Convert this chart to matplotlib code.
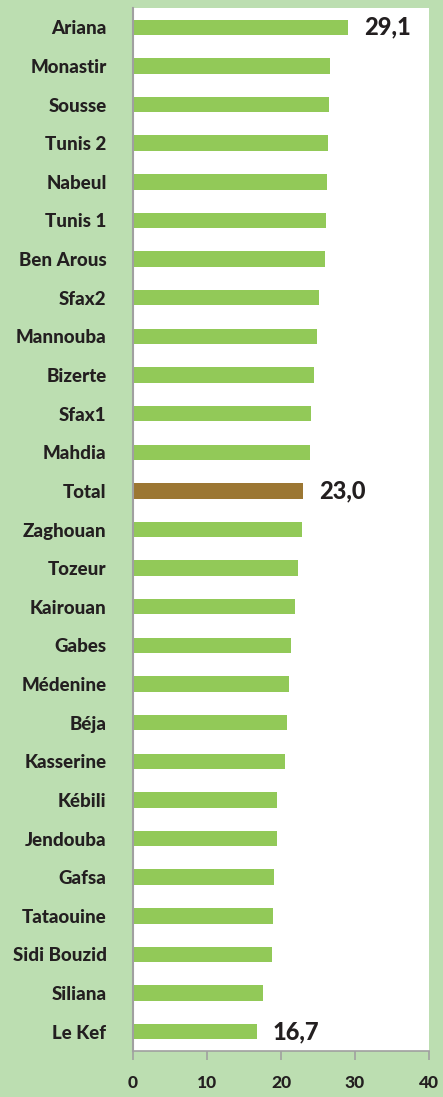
import matplotlib
matplotlib.use("Agg")
import matplotlib.pyplot as plt

categories = ["Ariana", "Monastir", "Sousse", "Tunis 2", "Nabeul", "Tunis 1", "Ben Arous",
              "Sfax2", "Mannouba", "Bizerte", "Sfax1", "Mahdia", "Total", "Zaghouan",
              "Tozeur", "Kairouan", "Gabes", "Médenine", "Béja", "Kasserine", "Kébili",
              "Jendouba", "Gafsa", "Tataouine", "Sidi Bouzid", "Siliana", "Le Kef"]
values = [29.1, 26.6, 26.5, 26.3, 26.2, 26.1, 25.9,
          25.1, 24.9, 24.5, 24.0, 23.9, 23.0, 22.9,
          22.3, 21.9, 21.4, 21.1, 20.8, 20.5, 19.4,
          19.4, 19.0, 18.9, 18.8, 17.6, 16.7]
labelled = ["Ariana", "Total", "Le Kef"]
xticks = [0, 10, 20, 30, 40]

bg = "#BCDEB1"
green = "#92C958"
brown = "#9C7733"
txt = "#231F20"

plt.rcParams['font.family'] = ['Lato', 'DejaVu Sans']

fig = plt.figure(figsize=(4.43, 10.97), dpi=100, facecolor=bg)
ax = fig.add_axes([133/443, 1 - 1051/1097, (429 - 133)/443, (1051 - 8)/1097])
ax.set_facecolor("white")

ypos = list(range(len(categories)))
colors = [brown if c == "Total" else green for c in categories]
ax.barh(ypos, values, height=0.4, color=colors, edgecolor="none")
ax.set_ylim(len(categories) - 0.5, -0.5)
ax.set_xlim(0, 40)
ax.set_xticks(xticks)
ax.set_xticklabels([str(t) for t in xticks], fontsize=12.5, fontweight=900, color=txt)
ax.set_yticks(ypos)
ax.set_yticklabels(categories, fontsize=13.5, fontweight=900, color=txt)
ax.tick_params(axis="y", length=0, pad=19)
ax.tick_params(axis="x", length=6.5, width=1.2, color="#A0A0A0", direction="out", pad=11)

for s in ["top", "right"]:
    ax.spines[s].set_visible(False)
ax.spines["left"].set_color("#A0A0A0")
ax.spines["left"].set_linewidth(1.5)
ax.spines["bottom"].set_color("#A0A0A0")
ax.spines["bottom"].set_linewidth(1.2)

for c, v, y in zip(categories, values, ypos):
    if c in labelled:
        ax.annotate(f"{v:.1f}".replace(".", ","), xy=(v, y), xytext=(16, 0),
                    textcoords="offset pixels", va="center", ha="left",
                    fontsize=17, fontweight=900, color=txt)

fig.savefig("out.png", dpi=100, facecolor=bg)
